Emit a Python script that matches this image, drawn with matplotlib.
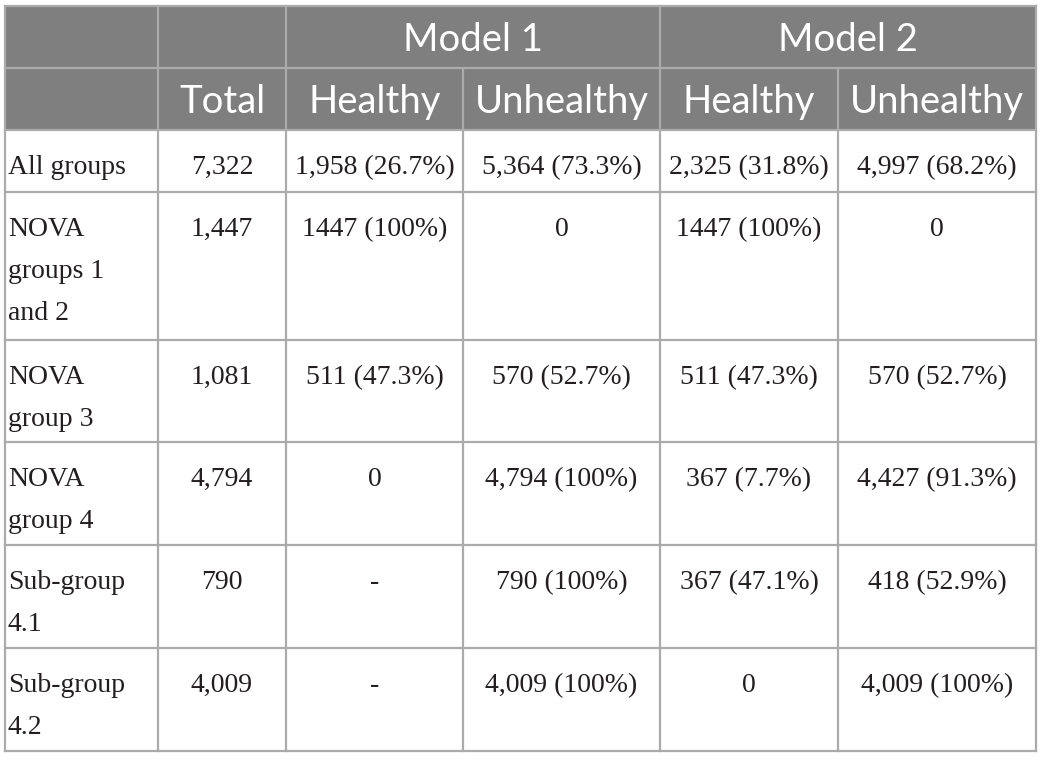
import matplotlib.pyplot as plt
from matplotlib.patches import Rectangle

# table content
models = ['Model 1', 'Model 2']
subheads = ['Total', 'Healthy', 'Unhealthy', 'Healthy', 'Unhealthy']
row_labels = ['All groups', 'NOVA\ngroups 1\nand 2', 'NOVA\ngroup 3', 'NOVA\ngroup 4',
              'Sub-group\n4.1', 'Sub-group\n4.2']
totals = ['7,322', '1,447', '1,081', '4,794', '790', '4,009']
m1_healthy = ['1,958 (26.7%)', '1447 (100%)', '511 (47.3%)', '0', '-', '-']
m1_unhealthy = ['5,364 (73.3%)', '0', '570 (52.7%)', '4,794 (100%)', '790 (100%)', '4,009 (100%)']
m2_healthy = ['2,325 (31.8%)', '1447 (100%)', '511 (47.3%)', '367 (7.7%)', '367 (47.1%)', '0']
m2_unhealthy = ['4,997 (68.2%)', '0', '570 (52.7%)', '4,427 (91.3%)', '418 (52.9%)', '4,009 (100%)']

# layout in pixels
col_x = [5, 158, 286, 463, 660, 838, 1036]
row_y = [6, 68, 130, 192, 340, 442, 545, 648, 751]
head_bg = '#7f7f7f'
line_c = '#ababab'
txt_c = '#231f20'

fig = plt.figure(figsize=(10.44, 7.6), dpi=100)
ax = fig.add_axes([0, 0, 1, 1])
ax.set_xlim(0, 1044)
ax.set_ylim(760, 0)
ax.axis('off')

# header background
ax.add_patch(Rectangle((col_x[0], row_y[0]), col_x[-1] - col_x[0], row_y[2] - row_y[0],
                       facecolor=head_bg, edgecolor='none'))

hfont = dict(family='Lato', color='white', fontsize=27.5, ha='center', va='baseline')
for i, m in enumerate(models):
    x0 = col_x[2 + 2 * i]
    x1 = col_x[4 + 2 * i]
    ax.text((x0 + x1) / 2, row_y[0] + 45, m, **hfont)
for j, s in enumerate(subheads):
    ax.text((col_x[1 + j] + col_x[2 + j]) / 2, row_y[1] + 45, s, **hfont)

# body
cols = [totals, m1_healthy, m1_unhealthy, m2_healthy, m2_unhealthy]
bfont = dict(family='Liberation Serif', color=txt_c, fontsize=20, va='baseline')
for r, lab in enumerate(row_labels):
    base = row_y[2 + r] + 44
    for k, line in enumerate(lab.split('\n')):
        ax.text(col_x[0] + 3, base + 42 * k, line, ha='left', **bfont)
    for j, col in enumerate(cols):
        ax.text((col_x[1 + j] + col_x[2 + j]) / 2, base, col[r], ha='center', **bfont)

# grid lines
for y in row_y:
    ax.plot((col_x[0], col_x[-1]), (y, y), color=line_c, lw=1.6, solid_capstyle='projecting')
# vertical lines (the model-header row spans two columns)
for k, x in enumerate(col_x):
    y0 = row_y[1] if k in (3, 5) else row_y[0]
    ax.plot((x, x), (y0, row_y[-1]), color=line_c, lw=1.6)

fig.savefig('out.png', dpi=100, facecolor='white')
